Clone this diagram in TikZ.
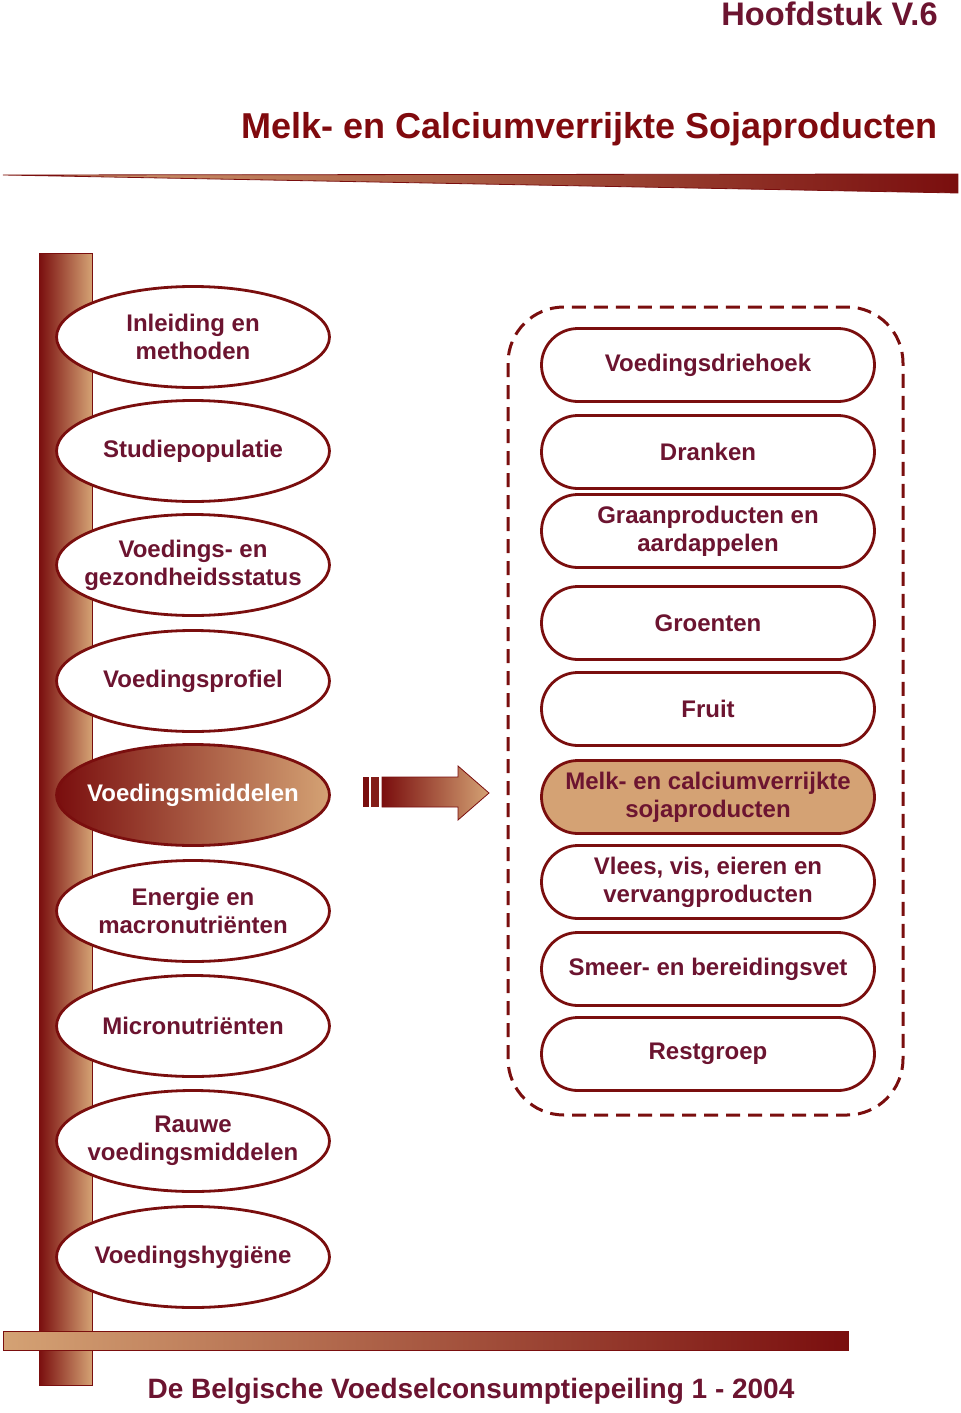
\documentclass[tikz,border=0pt]{standalone}
\usepackage{fontspec}
\setmainfont{Liberation Sans}
\usetikzlibrary{shapes.geometric,shapes.misc}
\definecolor{donkerrood}{RGB}{122,14,14}
\definecolor{beige}{RGB}{212,162,116}
\definecolor{tekst}{RGB}{108,20,48}
\definecolor{titelrood}{RGB}{128,10,14}
\begin{document}
\begin{tikzpicture}[x=0.5pt,y=-0.5pt,
    oval/.style={ellipse, draw=donkerrood, line width=1.4pt, fill=white, minimum width=136.5pt, minimum height=50.5pt, inner ysep=0pt, inner xsep=-12pt, align=center, text=tekst, font=\fontsize{12}{14}\selectfont\bfseries},
    pil/.style={rounded rectangle, draw=donkerrood, line width=1.4pt, fill=white, minimum width=166.5pt, minimum height=36.5pt, inner sep=0pt, align=center, text=tekst, font=\fontsize{12}{14}\selectfont\bfseries}]
    \useasboundingbox (0,0) rectangle (960,1413);
    % koppen
    \node[anchor=east, inner sep=0pt, text=tekst, font=\fontsize{16.3}{19}\selectfont\bfseries] (hoofdstuk) at (938,14) {Hoofdstuk V.6};
    \node[anchor=east, inner sep=0pt, text=titelrood, font=\fontsize{18}{22}\selectfont\bfseries] (titel) at (938,129) {Melk- en Calciumverrijkte Sojaproducten};
    \draw[donkerrood, thin, left color=beige, right color=donkerrood] (3,175)--(958,174)--(958,193)--cycle;
    % balken
    \draw[donkerrood, thin, left color=donkerrood, right color=beige] (39,253) rectangle (92,1385);
    \draw[donkerrood, thin, left color=beige, right color=donkerrood] (3,1331) rectangle (848,1350);
    \node[text=tekst, font=\fontsize{14}{17}\selectfont\bfseries] (voet) at (471,1391) {De Belgische Voedselconsumptiepeiling 1 - 2004};
    % linkerkolom
    \foreach \y/\nm/\txt in {337/l1/{Inleiding en\\methoden}, 451/l2/Studiepopulatie, 565/l3/{Voedings- en\\gezondheidsstatus}, 681/l4/Voedingsprofiel, 911/l6/{Energie en\\macronutriënten}, 1026/l7/Micronutriënten, 1141/l8/{Rauwe\\voedingsmiddelen}, 1257/l9/Voedingshygiëne}
    {
        \node[oval] (\nm) at (193,\y) {\txt};
    }
    \node[oval, left color=donkerrood, right color=beige, text=white] (l5) at (193,795) {Voedingsmiddelen};
    % pijl
    \fill[donkerrood] (363,777) rectangle (369,807);
    \fill[donkerrood!90!beige] (371,777) rectangle (379,807);
    \draw[donkerrood, thin, left color=donkerrood, right color=beige] (382,777)--(458,777)--(458,766)--(489,793)--(458,820)--(458,807)--(382,807)--cycle;
    % rechterkolom
    \draw[donkerrood, line width=1.5pt, dash pattern=on 7pt off 4pt, rounded corners=28pt] (508,307) rectangle (903,1115);
    \foreach \y/\nm/\txt in {365/r1/Voedingsdriehoek, 452/r2/Dranken, 531/r3/{Graanproducten en\\aardappelen}, 623/r4/Groenten, 709/r5/Fruit, 882/r7/{Vlees, vis, eieren en\\vervangproducten}, 969/r8/Smeer- en bereidingsvet, 1054/r9/Restgroep}
    {
        \node[pil] (\nm) at (708,\y) {\txt};
    }
    \node[pil, fill=beige] (r6) at (708,797) {Melk- en calciumverrijkte\\sojaproducten};
\end{tikzpicture}
\end{document}
